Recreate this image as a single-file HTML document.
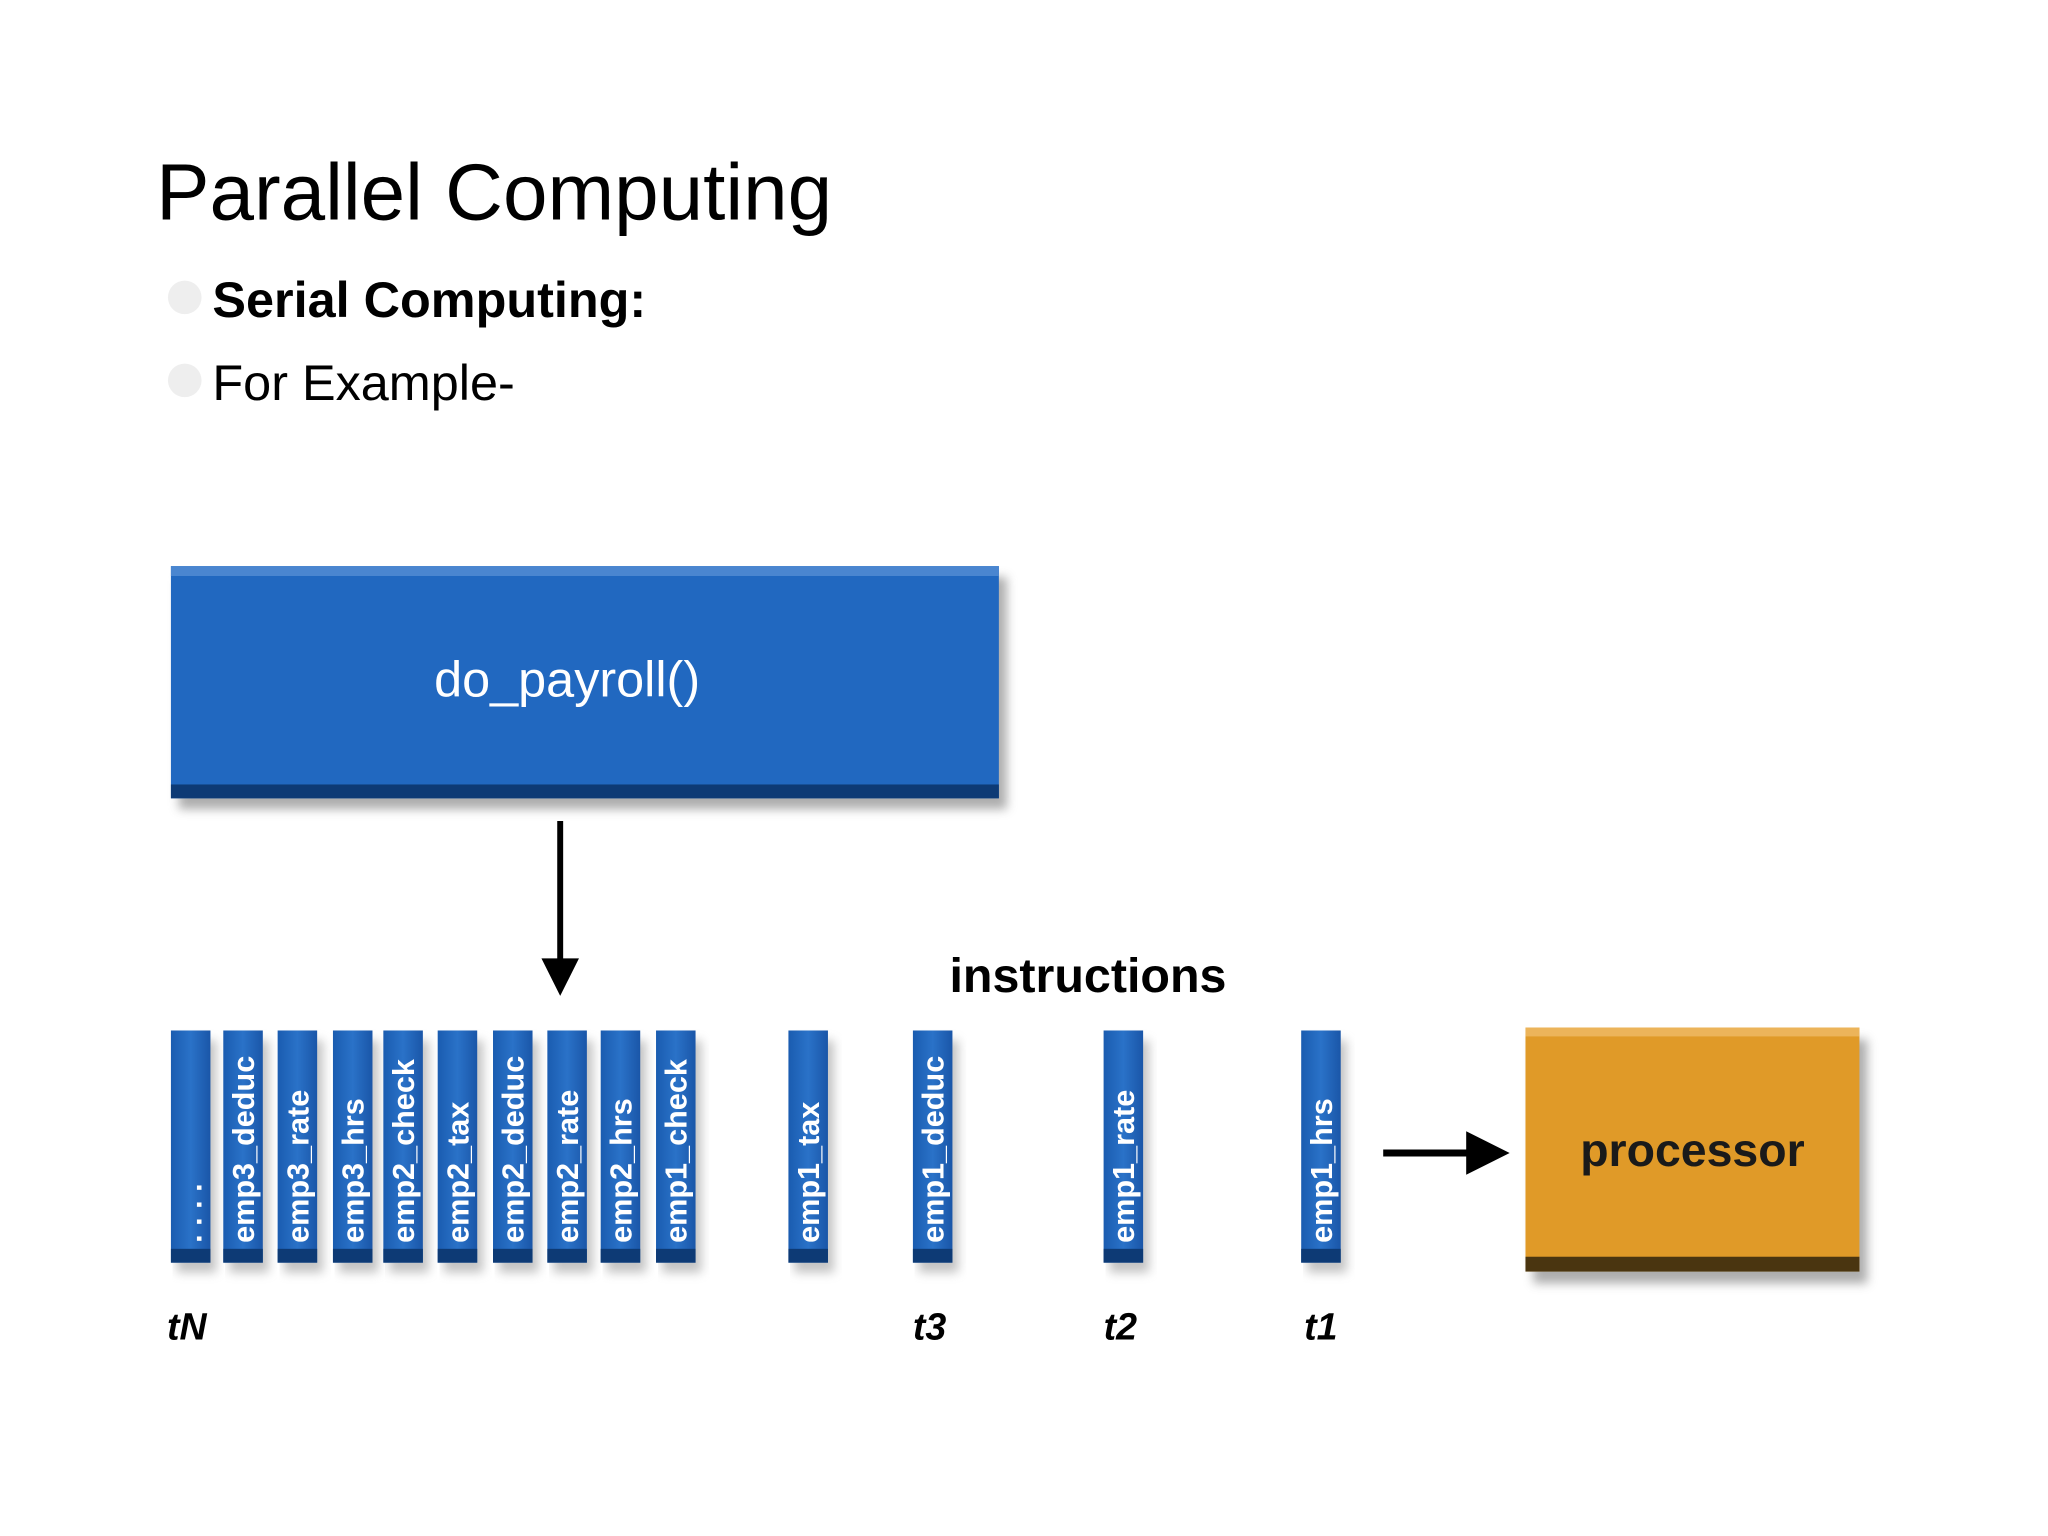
<!DOCTYPE html>
<html><head><meta charset="utf-8"><style>
html,body{margin:0;padding:0;background:#fff;}
svg{display:block;}
</style></head><body>
<svg width="2048" height="1536" viewBox="0 0 2048 1536" xmlns="http://www.w3.org/2000/svg">
<defs>
<filter id="sh" x="-10%" y="-10%" width="130%" height="140%"><feGaussianBlur stdDeviation="5"/></filter>
<linearGradient id="bar" x1="0" y1="0" x2="1" y2="0">
<stop offset="0" stop-color="#1a5cb0"/><stop offset="0.5" stop-color="#2a72c8"/><stop offset="1" stop-color="#1a56a8"/>
</linearGradient>
</defs>
<g transform="scale(0.988)" font-family="Liberation Sans, sans-serif">
<text x="158" y="222" font-size="81" fill="#000">Parallel Computing</text>
<circle cx="187" cy="301" r="17" fill="#eee"/>
<text x="215" y="321" font-size="51" font-weight="bold" fill="#000">Serial Computing:</text>
<circle cx="187" cy="385" r="17" fill="#eee"/>
<text x="215" y="405" font-size="51" fill="#000">For Example-</text>

<rect x="181" y="584" width="838" height="235" fill="#777" opacity="0.6" filter="url(#sh)"/>
<rect x="173" y="573" width="838" height="235" fill="#2168c0"/>
<rect x="173" y="573" width="838" height="10" fill="#4a86d0"/>
<rect x="173" y="794" width="838" height="14" fill="#0d3a75"/>
<text x="574" y="705" font-size="51" fill="#fff" text-anchor="middle">do_payroll()</text>

<line x1="567" y1="831" x2="567" y2="975" stroke="#000" stroke-width="6"/>
<polygon points="548,970 586,970 567,1008" fill="#000"/>

<text x="961" y="1004" font-size="49" font-weight="bold" fill="#000">instructions</text>

<g font-size="31" font-weight="bold">
<rect x="179" y="1053" width="40" height="235" fill="#888" opacity="0.5" filter="url(#sh)"/><rect x="173" y="1043" width="40" height="235" fill="url(#bar)"/><rect x="173" y="1264" width="40" height="14" fill="#0d3a75"/><text transform="translate(204,1258) rotate(-90)" fill="#fff">. . . .</text>
<rect x="232" y="1053" width="40" height="235" fill="#888" opacity="0.5" filter="url(#sh)"/><rect x="226" y="1043" width="40" height="235" fill="url(#bar)"/><rect x="226" y="1264" width="40" height="14" fill="#0d3a75"/><text transform="translate(257,1258) rotate(-90)" fill="#fff">emp3_deduc</text>
<rect x="287" y="1053" width="40" height="235" fill="#888" opacity="0.5" filter="url(#sh)"/><rect x="281" y="1043" width="40" height="235" fill="url(#bar)"/><rect x="281" y="1264" width="40" height="14" fill="#0d3a75"/><text transform="translate(312,1258) rotate(-90)" fill="#fff">emp3_rate</text>
<rect x="343" y="1053" width="40" height="235" fill="#888" opacity="0.5" filter="url(#sh)"/><rect x="337" y="1043" width="40" height="235" fill="url(#bar)"/><rect x="337" y="1264" width="40" height="14" fill="#0d3a75"/><text transform="translate(368,1258) rotate(-90)" fill="#fff">emp3_hrs</text>
<rect x="394" y="1053" width="40" height="235" fill="#888" opacity="0.5" filter="url(#sh)"/><rect x="388" y="1043" width="40" height="235" fill="url(#bar)"/><rect x="388" y="1264" width="40" height="14" fill="#0d3a75"/><text transform="translate(419,1258) rotate(-90)" fill="#fff">emp2_check</text>
<rect x="449" y="1053" width="40" height="235" fill="#888" opacity="0.5" filter="url(#sh)"/><rect x="443" y="1043" width="40" height="235" fill="url(#bar)"/><rect x="443" y="1264" width="40" height="14" fill="#0d3a75"/><text transform="translate(474,1258) rotate(-90)" fill="#fff">emp2_tax</text>
<rect x="505" y="1053" width="40" height="235" fill="#888" opacity="0.5" filter="url(#sh)"/><rect x="499" y="1043" width="40" height="235" fill="url(#bar)"/><rect x="499" y="1264" width="40" height="14" fill="#0d3a75"/><text transform="translate(530,1258) rotate(-90)" fill="#fff">emp2_deduc</text>
<rect x="560" y="1053" width="40" height="235" fill="#888" opacity="0.5" filter="url(#sh)"/><rect x="554" y="1043" width="40" height="235" fill="url(#bar)"/><rect x="554" y="1264" width="40" height="14" fill="#0d3a75"/><text transform="translate(585,1258) rotate(-90)" fill="#fff">emp2_rate</text>
<rect x="614" y="1053" width="40" height="235" fill="#888" opacity="0.5" filter="url(#sh)"/><rect x="608" y="1043" width="40" height="235" fill="url(#bar)"/><rect x="608" y="1264" width="40" height="14" fill="#0d3a75"/><text transform="translate(639,1258) rotate(-90)" fill="#fff">emp2_hrs</text>
<rect x="670" y="1053" width="40" height="235" fill="#888" opacity="0.5" filter="url(#sh)"/><rect x="664" y="1043" width="40" height="235" fill="url(#bar)"/><rect x="664" y="1264" width="40" height="14" fill="#0d3a75"/><text transform="translate(695,1258) rotate(-90)" fill="#fff">emp1_check</text>
<rect x="804" y="1053" width="40" height="235" fill="#888" opacity="0.5" filter="url(#sh)"/><rect x="798" y="1043" width="40" height="235" fill="url(#bar)"/><rect x="798" y="1264" width="40" height="14" fill="#0d3a75"/><text transform="translate(829,1258) rotate(-90)" fill="#fff">emp1_tax</text>
<rect x="930" y="1053" width="40" height="235" fill="#888" opacity="0.5" filter="url(#sh)"/><rect x="924" y="1043" width="40" height="235" fill="url(#bar)"/><rect x="924" y="1264" width="40" height="14" fill="#0d3a75"/><text transform="translate(955,1258) rotate(-90)" fill="#fff">emp1_deduc</text>
<rect x="1123" y="1053" width="40" height="235" fill="#888" opacity="0.5" filter="url(#sh)"/><rect x="1117" y="1043" width="40" height="235" fill="url(#bar)"/><rect x="1117" y="1264" width="40" height="14" fill="#0d3a75"/><text transform="translate(1148,1258) rotate(-90)" fill="#fff">emp1_rate</text>
<rect x="1323" y="1053" width="40" height="235" fill="#888" opacity="0.5" filter="url(#sh)"/><rect x="1317" y="1043" width="40" height="235" fill="url(#bar)"/><rect x="1317" y="1264" width="40" height="14" fill="#0d3a75"/><text transform="translate(1348,1258) rotate(-90)" fill="#fff">emp1_hrs</text>
</g>

<g font-size="38" font-style="italic" font-weight="bold" fill="#000">
<text x="169" y="1356">tN</text>
<text x="924" y="1356">t3</text>
<text x="1117" y="1356">t2</text>
<text x="1320" y="1356">t1</text>
</g>

<line x1="1400" y1="1167" x2="1490" y2="1167" stroke="#000" stroke-width="7"/>
<polygon points="1484,1145 1528,1167 1484,1189" fill="#000"/>

<rect x="1552" y="1052" width="338" height="247" fill="#777" opacity="0.6" filter="url(#sh)"/>
<rect x="1544" y="1040" width="338" height="247" fill="#e09a28"/>
<rect x="1544" y="1040" width="338" height="9" fill="#ecb45a"/>
<rect x="1544" y="1272" width="338" height="15" fill="#4a3510"/>
<text x="1713" y="1180" font-size="47" font-weight="bold" fill="#1a1a1a" text-anchor="middle">processor</text>
</g>
</svg>
</body></html>
